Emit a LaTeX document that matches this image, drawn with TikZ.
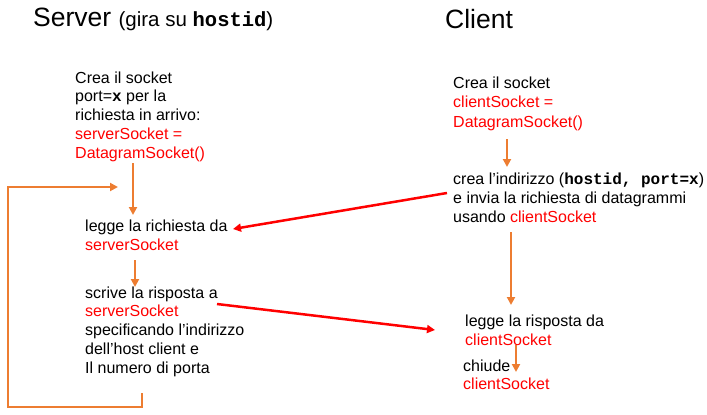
\documentclass[tikz,border=0pt]{standalone}
\usepackage{fontspec}
\setmainfont{Liberation Sans}
\setmonofont{Liberation Mono}
\usetikzlibrary{arrows.meta}

\definecolor{arancio}{RGB}{237,125,49}
\newcommand{\sock}[1]{\textcolor{red}{#1}}
\newcommand{\cod}[1]{\textbf{\texttt{#1}}}

\begin{document}
\begin{tikzpicture}[x=1pt, y=-1pt,
  testo/.style={anchor=base west, align=left, inner sep=0pt, font=\fontsize{16}{18.7}\selectfont},
  titolo/.style={anchor=base west, inner sep=0pt, font=\fontsize{26.5}{30}\selectfont},
  flusso/.style={draw=arancio, line width=2.5pt, -{Triangle[length=8pt,width=8pt]}},
  messaggio/.style={draw=red, line width=2.5pt, -{Triangle[length=8pt,width=8pt]}}]
  \useasboundingbox (0,0) rectangle (707,415);

  % titoli (ancorati alla linea di base)
  \node[titolo] (server) at (33,27) {Server {\fontsize{20.5}{22}\selectfont (gira su \cod{hostid})}};
  \node[titolo] (client) at (445,28) {Client};

  % lato server (ancora = linea di base dell'ultima riga)
  \node[testo] (srvcrea) at (75,158) {Crea il socket\\ port=\cod{x} per la\\ richiesta in arrivo:\\ \sock{serverSocket =}\\ \sock{DatagramSocket()}};
  \node[testo] (srvlegge) at (85,250) {legge la richiesta da\\ \sock{serverSocket}};
  \node[testo] (srvscrive) at (85,373) {scrive la risposta a\\ \sock{serverSocket}\\ specificando l’indirizzo\\ dell’host client e\\ Il numero di porta};

  % lato client
  \node[testo, font=\fontsize{16}{19.5}\selectfont] (clicrea) at (453,127) {Crea il socket\\ \sock{clientSocket =}\\ \sock{DatagramSocket()}};
  \node[testo] (cliinvia) at (453,222) {crea l’indirizzo (\cod{hostid, port=x})\\ e invia la richiesta di datagrammi\\ usando \sock{clientSocket}};
  \node[testo] (clilegge) at (465,345) {legge la risposta da\\ \sock{clientSocket}};
  \node[testo, font=\fontsize{16}{17.5}\selectfont] (clichiude) at (463,389) {chiude\\ \sock{clientSocket}};

  % estremi delle frecce
  \coordinate (s1) at (133,163);
  \coordinate (s2) at (133,215);
  \coordinate (s3) at (135,260);
  \coordinate (s4) at (135,287);
  \coordinate (r1) at (142,393);
  \coordinate (r2) at (142,407);
  \coordinate (r3) at (8,407);
  \coordinate (r4) at (8,187);
  \coordinate (r5) at (118,187);
  \coordinate (c1) at (507,139);
  \coordinate (c2) at (507,167);
  \coordinate (c3) at (511,232);
  \coordinate (c4) at (511,305);
  \coordinate (c5) at (516,345);
  \coordinate (c6) at (516,372);
  \coordinate (m1) at (447,193);
  \coordinate (m2) at (233,229);
  \coordinate (m3) at (217,304);
  \coordinate (m4) at (435,330);

  \draw[flusso] (s1) -- (s2);
  \draw[flusso] (s3) -- (s4);
  \draw[flusso] (r1) -- (r2) -- (r3) -- (r4) -- (r5);
  \draw[flusso] (c1) -- (c2);
  \draw[flusso] (c3) -- (c4);
  \draw[flusso] (c5) -- (c6);
  \draw[messaggio] (m1) -- (m2);
  \draw[messaggio] (m3) -- (m4);
\end{tikzpicture}
\end{document}
